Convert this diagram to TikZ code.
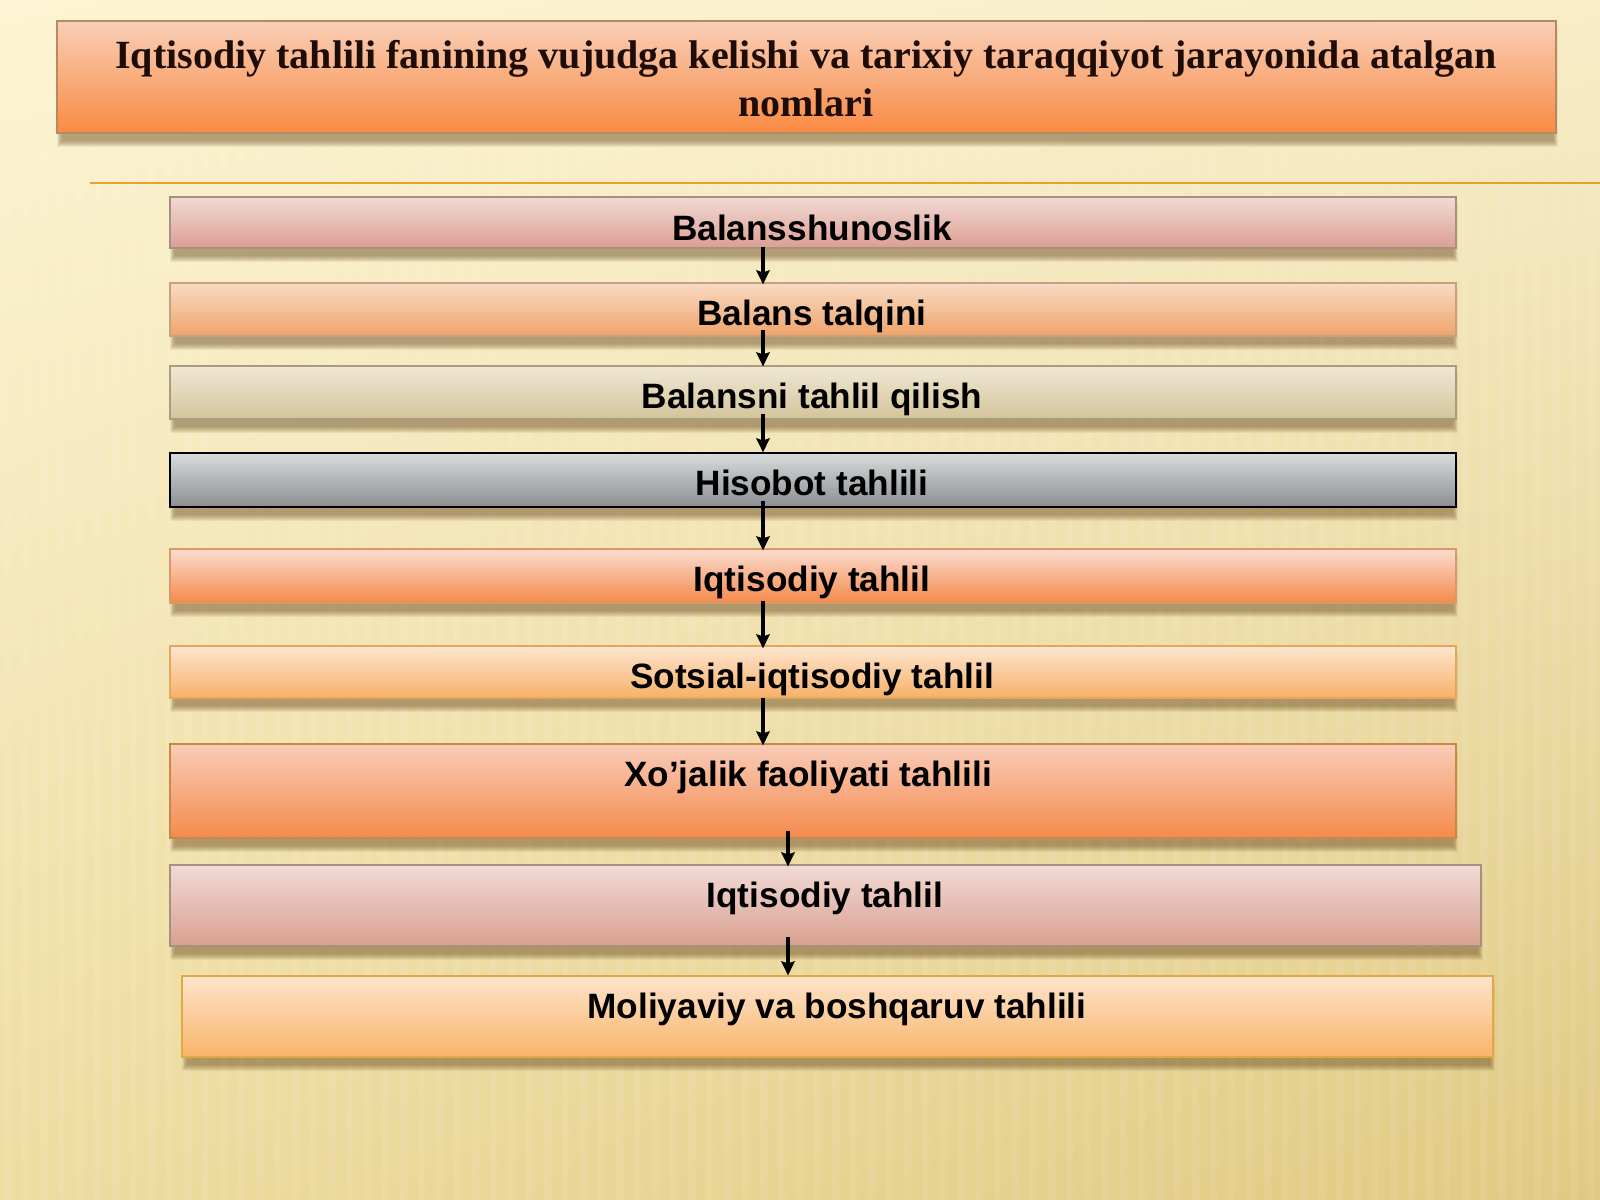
\documentclass[tikz,border=0pt]{standalone}
\usepackage{fontspec}
\setmainfont{Liberation Serif}
\newfontfamily\arialf{Liberation Sans}
\usetikzlibrary{fit,arrows.meta,calc,shadings}
\definecolor{bgUL}{HTML}{FCF4D4}
\definecolor{bgUR}{HTML}{F8EDC8}
\definecolor{bgLL}{HTML}{EEDCA0}
\definecolor{bgLR}{HTML}{E0C982}
\definecolor{tTop}{HTML}{F9CFB8}
\definecolor{tBot}{HTML}{F98A42}
\definecolor{tBorder}{HTML}{B88860}
\definecolor{tText}{HTML}{1E0C08}
\definecolor{lineOr}{HTML}{E8A030}
\definecolor{shc}{HTML}{6A4A20}
\definecolor{c1t}{HTML}{F1DAD4}\definecolor{c1b}{HTML}{DC9E92}
\definecolor{c2t}{HTML}{F9DAC4}\definecolor{c2b}{HTML}{EFA46A}
\definecolor{c3t}{HTML}{F0E8D4}\definecolor{c3b}{HTML}{D3C49A}
\definecolor{c4t}{HTML}{D8DCDC}\definecolor{c4b}{HTML}{8C8E92}
\definecolor{c5t}{HTML}{FBDCD0}\definecolor{c5b}{HTML}{F4894A}
\definecolor{c6t}{HTML}{FDE6D0}\definecolor{c6b}{HTML}{F8B068}
\definecolor{c7t}{HTML}{F9CCB8}\definecolor{c7b}{HTML}{F58A4C}
\definecolor{c8t}{HTML}{F2DAD6}\definecolor{c8b}{HTML}{D8A090}
\definecolor{c9t}{HTML}{FDE4CC}\definecolor{c9b}{HTML}{F9B468}
\definecolor{bd1}{HTML}{A89080}
\definecolor{bd2}{HTML}{C8A080}
\definecolor{bd3}{HTML}{A89C80}
\definecolor{bd5}{HTML}{D89868}
\definecolor{bd6}{HTML}{E0A858}
\definecolor{bd7}{HTML}{C88848}
\definecolor{bd9}{HTML}{E0A848}
\newcommand\mkshadow[4]{\foreach \k in {0,...,6}{\fill[shc,opacity=0.085] (#1+0.8*\k,#2+6+\k) rectangle (#3+2-0.8*\k,#4+14-\k);}}
\begin{document}
\begin{tikzpicture}[x=0.75pt,y=-0.75pt,
  titlebox/.style={draw=tBorder,line width=0.9pt,top color=tTop,bottom color=tBot,inner sep=0pt},
  barbox/.style n args={3}{draw=#3,line width=0.9pt,top color=#1,bottom color=#2,inner sep=0pt},
  lbl/.style={font=\arialf\bfseries\fontsize{26.4}{31}\selectfont,text=black,anchor=base,inner sep=0pt},
  ttl/.style={font=\bfseries\fontsize{30}{36}\selectfont,text=tText,align=center,inner sep=0pt},
  arr/.style={draw=black,line width=2.4pt,-{Stealth[length=10.5pt,width=10pt,inset=1.5pt]}}]
\useasboundingbox (0,0) rectangle (1600,1200);
\shade[upper left=bgUL,upper right=bgUR,lower left=bgLL,lower right=bgLR] (0,0) rectangle (1600,1200);
\foreach \i in {0,...,88} \fill[white,opacity=0.08] (\i*18+4,150) rectangle ++(7,1050);
% title
\mkshadow{57}{21}{1556}{133}
\node[titlebox,fit={(57,21) (1556,133)}] (title) {};
\node[ttl] (tt) at (806,79) {Iqtisodiy tahlili fanining vujudga kelishi va tarixiy taraqqiyot jarayonida atalgan\\nomlari};
\draw[lineOr,line width=2.2pt] (90,183) -- (1600,183);
% shadows
\mkshadow{170}{197}{1456}{248}
\mkshadow{170}{283}{1456}{336}
\mkshadow{170}{366}{1456}{419}
\mkshadow{170}{453}{1456}{507}
\mkshadow{170}{549}{1456}{603}
\mkshadow{170}{646}{1456}{698}
\mkshadow{170}{744}{1456}{838}
\mkshadow{170}{865}{1481}{946}
\mkshadow{182}{976}{1493}{1057}
% boxes
\node[barbox={c1t}{c1b}{bd1},fit={(170,197) (1456,248)}] (b1) {};
\node[barbox={c2t}{c2b}{bd2},fit={(170,283) (1456,336)}] (b2) {};
\node[barbox={c3t}{c3b}{bd3},fit={(170,366) (1456,419)}] (b3) {};
\node[barbox={c4t}{c4b}{black},fit={(170,453) (1456,507)}] (b4) {};
\node[barbox={c5t}{c5b}{bd5},fit={(170,549) (1456,603)}] (b5) {};
\node[barbox={c6t}{c6b}{bd6},fit={(170,646) (1456,698)}] (b6) {};
\node[barbox={c7t}{c7b}{bd7},fit={(170,744) (1456,838)}] (b7) {};
\node[barbox={c8t}{c8b}{bd1},fit={(170,865) (1481,946)}] (b8) {};
\node[barbox={c9t}{c9b}{bd9},fit={(182,976) (1493,1057)}] (b9) {};
% labels
\node[lbl] (t1) at (812,240) {Balansshunoslik};
\node[lbl] (t2) at (812,325) {Balans talqini};
\node[lbl] (t3) at (812,408) {Balansni tahlil qilish};
\node[lbl] (t4) at (812,495) {Hisobot tahlili};
\node[lbl] (t5) at (812,591) {Iqtisodiy tahlil};
\node[lbl] (t6) at (812,688) {Sotsial-iqtisodiy tahlil};
\node[lbl] (t7) at (808,786) {Xo’jalik faoliyati tahlili};
\node[lbl] (t8) at (825,907) {Iqtisodiy tahlil};
\node[lbl] (t9) at (837,1018) {Moliyaviy va boshqaruv tahlili};
% arrows
\coordinate (ax1) at (763,0);
\coordinate (ax2) at (788,0);
\draw[arr] ($(b1.south -| ax1)+(0,-2)$) -- ($(b2.north -| ax1)+(0,2)$);
\draw[arr] ($(b2.south -| ax1)+(0,-7)$) -- ($(b3.north -| ax1)+(0,1)$);
\draw[arr] ($(b3.south -| ax1)+(0,-6)$) -- ($(b4.north -| ax1)+(0,0)$);
\draw[arr] ($(b4.south -| ax1)+(0,-7)$) -- ($(b5.north -| ax1)+(0,2)$);
\draw[arr] ($(b5.south -| ax1)+(0,-3)$) -- ($(b6.north -| ax1)+(0,3)$);
\draw[arr] ($(b6.south -| ax1)+(0,-1)$) -- ($(b7.north -| ax1)+(0,2)$);
\draw[arr] ($(b7.south -| ax2)+(0,-8)$) -- ($(b8.north -| ax2)+(0,2)$);
\draw[arr] ($(b8.south -| ax2)+(0,-10)$) -- ($(b9.north -| ax2)+(0,0)$);
\end{tikzpicture}
\end{document}
